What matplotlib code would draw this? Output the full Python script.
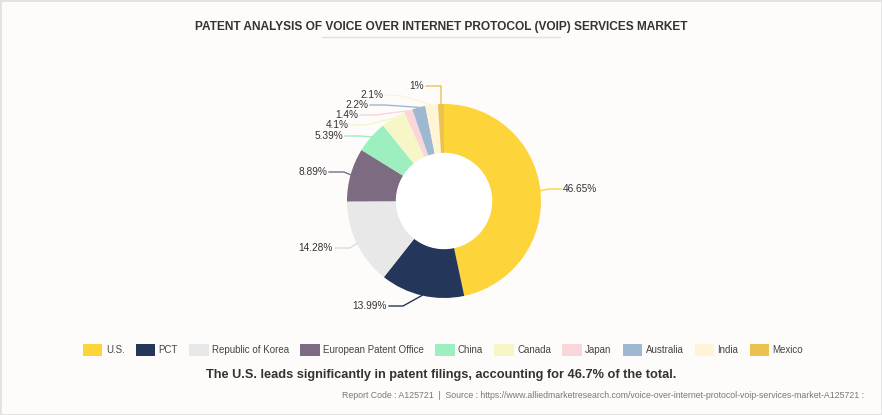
import matplotlib
matplotlib.use('Agg')
import numpy as np
import matplotlib.pyplot as plt
from matplotlib.patches import Patch, Circle, Rectangle

plt.rcParams['font.family'] = ['Liberation Sans', 'DejaVu Sans']

categories = ['U.S.', 'PCT', 'Republic of Korea', 'European Patent Office', 'China',
              'Canada', 'Japan', 'Australia', 'India', 'Mexico']
shares = [46.65, 13.99, 14.28, 8.89, 5.39, 4.1, 1.4, 2.2, 2.1, 1]
share_labels = ['46.65%', '13.99%', '14.28%', '8.89%', '5.39%', '4.1%', '1.4%', '2.2%', '2.1%', '1%']
colors = ['#fed43b', '#243659', '#e8e8e8', '#7c6b81', '#9eefc0',
          '#f7f6c6', '#f8d6da', '#9db8d0', '#fff5d6', '#ebc250']

W, H = 882, 415
cx, cy = 444, H - 201
r_out, r_in = 97, 47.5

# where the percentage labels sit (pixels, y from top) and length of the flat part of the leader
label_xy = [(563, 189), (387, 306), (333, 248), (327, 172), (343, 136),
            (349, 125), (358, 115), (368, 105), (383, 95.5), (424, 86)]
flat = [12, 14, 15, 15, 15, 15, 15, 15, 15, 15]

fig = plt.figure(figsize=(W / 100, H / 100), dpi=100, facecolor='#fdfcfa')
ax = fig.add_axes([0, 0, 1, 1])
ax.set_facecolor('#fdfcfa')

wedges, _ = ax.pie(shares, colors=colors, startangle=90, counterclock=False,
                   radius=r_out, center=(cx, cy),
                   wedgeprops=dict(width=r_out - r_in, linewidth=0))
ax.add_patch(Circle((cx, cy), r_in, color='white', zorder=3))

for w, txt, (tx, ty), h, c in zip(wedges, share_labels, label_xy, flat, colors):
    mid = np.deg2rad((w.theta1 + w.theta2) / 2)
    ax_ = cx + r_out * np.cos(mid)
    ay_ = cy + r_out * np.sin(mid)
    ty = H - ty
    if tx > cx + 50:
        ha, ex = 'left', tx - 2
        elbow = ex - h
    else:
        ha, ex = 'right', tx + 2
        elbow = ex + h
    lc = c if c != '#e8e8e8' else '#dcdcdc'
    ax.plot([ax_, elbow, ex], [ay_, ty, ty], color=lc, lw=1, zorder=1)
    ax.text(tx, ty, txt, ha=ha, va='center', fontsize=7.3, color='#333333')

ax.set_xlim(0, W)
ax.set_ylim(0, H)
ax.set_aspect('auto')
ax.axis('off')

# title
fig.text(441 / W, 1 - 27 / H, 'PATENT ANALYSIS OF VOICE OVER INTERNET PROTOCOL (VOIP) SERVICES MARKET',
         ha='center', va='center', fontsize=8.6, fontweight='bold', color='#333333')
ax.plot([322, 560], [H - 37.5, H - 37.5], color='#e2e2e2', lw=1)

# legend
handles = [Patch(facecolor=c, edgecolor='none') for c in colors]
fig.legend(handles, categories, loc='center', bbox_to_anchor=(443 / W, 1 - 350 / H), ncol=10,
           frameon=False, fontsize=7, handlelength=2.0, handleheight=1.4,
           handletextpad=0.35, columnspacing=1.15, labelcolor='#444444')

fig.text(441 / W, 1 - 375 / H,
         'The U.S. leads significantly in patent filings, accounting for 46.7% of the total.',
         ha='center', va='center', fontsize=9.2, fontweight='bold', color='#333333')
fig.text(864 / W, 1 - 395 / H,
         'Report Code : A125721  |  Source : https://www.alliedmarketresearch.com/voice-over-internet-protocol-voip-services-market-A125721 :',
         ha='right', va='center', fontsize=6.3, color='#777777')

fig.add_artist(Rectangle((0, 0), 1, 1, transform=fig.transFigure, fill=False,
                         edgecolor='#e2e2e2', lw=2))

fig.savefig('out.png', dpi=100, facecolor=fig.get_facecolor())
